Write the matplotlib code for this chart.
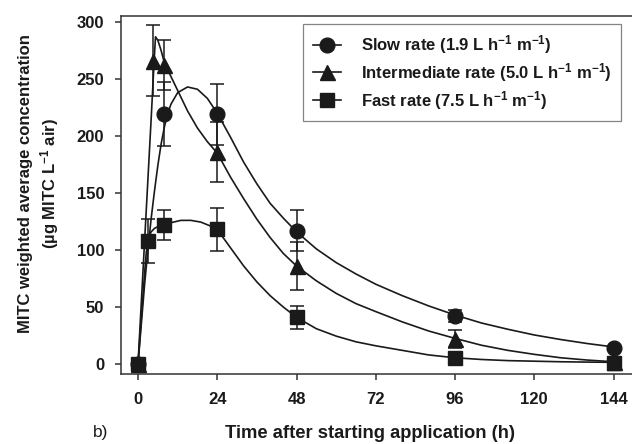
import numpy as np
import matplotlib
matplotlib.use("Agg")
import matplotlib.pyplot as plt

plt.rcParams.update({"font.family": "Liberation Sans", "font.weight": "bold",
                     "mathtext.default": "regular", "axes.linewidth": 1.1})

# measured points (mean +/- sd)
t_slow = [0, 8, 24, 48, 96, 144]
v_slow = [0, 219, 219, 117, 42, 14]
e_slow = [0, 28, 27, 18, 5, 0]

t_int = [0, 4.5, 8, 24, 48, 96, 144]
v_int = [0, 266, 262, 186, 86, 22, 2]
e_int = [0, 31, 22, 26, 21, 8, 0]

t_fast = [0, 3, 8, 24, 48, 96, 144]
v_fast = [0, 108, 122, 118, 41, 5.5, 1]
e_fast = [0, 19, 13, 19, 10, 2, 0]

# fitted curves
ct_slow = [0, 1, 2, 3, 4, 5, 6, 7, 8, 9, 10, 12, 15, 18, 21, 24, 28, 32, 36, 40, 44, 48,
           54, 60, 66, 72, 80, 88, 96, 104, 112, 120, 128, 136, 144]
cv_slow = [0, 35, 70, 100, 128, 152, 174, 193, 208, 220, 228, 238, 243, 241, 233, 220,
           199, 177, 158, 141, 128, 116, 101, 89, 79, 70, 60, 51, 43, 36, 30.5, 25.5,
           21.5, 18, 15]

ct_int = [0, 1, 2, 3, 4, 5, 5.3, 6, 7, 8, 10, 12, 15, 18, 21, 24, 28, 32, 36, 40, 44, 48,
          54, 60, 66, 72, 80, 88, 96, 104, 112, 120, 128, 136, 144]
cv_int = [0, 54, 108, 162, 216, 272, 287, 284, 275, 264, 252, 240, 222, 207, 195, 185,
          164, 145, 127, 111, 97, 86, 73, 62, 53, 46, 37, 29, 22.5, 16.5, 12, 8.5, 5.5,
          3.5, 2]

ct_fast = [0, 1, 2, 2.5, 3, 3.5, 4, 5, 6, 8, 10, 13, 16, 19, 22, 24, 28, 32, 36, 40, 44,
           48, 54, 60, 66, 72, 80, 88, 96, 104, 112, 120, 128, 136, 144]
cv_fast = [0, 40, 80, 98, 108, 113, 116, 119, 120.5, 122, 124, 126, 126, 124.5, 121, 118,
           102, 86, 72, 60, 50, 41, 31, 24.5, 19.5, 16, 12, 8, 5.5, 4, 3, 2.5, 2, 1.7, 1.5]

labels = ["Slow rate (1.9 L h$^{-1}$ m$^{-1}$)",
          "Intermediate rate (5.0 L h$^{-1}$ m$^{-1}$)",
          "Fast rate (7.5 L h$^{-1}$ m$^{-1}$)"]

INK = "#1a1a1a"
fig = plt.figure(figsize=(6.32, 4.44), dpi=100)
ax = fig.add_axes([121 / 632, 1 - 374.3 / 444, 511 / 632, 358.6 / 444])

series = [(t_slow, v_slow, e_slow, ct_slow, cv_slow, "o", 10.6),
          (t_int, v_int, e_int, ct_int, cv_int, "^", 10.8),
          (t_fast, v_fast, e_fast, ct_fast, cv_fast, "s", 9.6)]
handles = []
for (t, v, e, ct, cv, mk, ms), lab in zip(series, labels):
    ax.plot(ct, cv, color=INK, lw=1.2, zorder=2)
    ax.errorbar(t, v, yerr=e, fmt="none", ecolor=INK, elinewidth=1.1,
                capsize=4.8, capthick=1.1, zorder=3)
    ax.plot(t, v, ls="none", marker=mk, ms=ms, color=INK, zorder=4)
    h, = ax.plot([], [], color=INK, lw=1.2, marker=mk, ms=ms)
    handles.append(h)

ax.set_xlim(-5.15, 149.6)
ax.set_ylim(-9.0, 305.5)
ax.set_xticks([0, 24, 48, 72, 96, 120, 144])
ax.set_yticks([0, 50, 100, 150, 200, 250, 300])
ax.spines["right"].set_visible(False)
for s in ax.spines.values():
    s.set_color("#333333")
ax.tick_params(direction="out", length=4, width=1.1, color="#333333",
               labelsize=12, labelcolor=INK)
ax.tick_params(axis="x", pad=9)
ax.tick_params(axis="y", pad=8)

fig.text(370 / 632, 1 - 433 / 444, "Time after starting application (h)", fontsize=13.2,
         fontweight="bold", color=INK, ha="center", va="center")
fig.text(39.5 / 632, 1 - 184 / 444,
         "MITC weighted average concentration\n(\u00b5g MITC L$^{-1}$ air)",
         rotation=90, ha="center", va="center", fontsize=12, fontweight="bold",
         color=INK, linespacing=1.3, multialignment="center")
fig.text(93 / 632, 1 - 432 / 444, "b)", fontsize=12.5, fontweight="normal", color=INK,
         ha="left", va="center")

leg = ax.legend(handles, labels, loc="upper right", bbox_to_anchor=(0.978, 0.977),
                frameon=True, fancybox=False, fontsize=12, handlelength=1.7,
                handletextpad=1.2, borderpad=0.55, labelspacing=0.3, borderaxespad=0)
leg.get_frame().set_edgecolor("#666666")
leg.get_frame().set_linewidth(0.9)
for txt in leg.get_texts():
    txt.set_color(INK)

fig.savefig("out.png", dpi=100)
